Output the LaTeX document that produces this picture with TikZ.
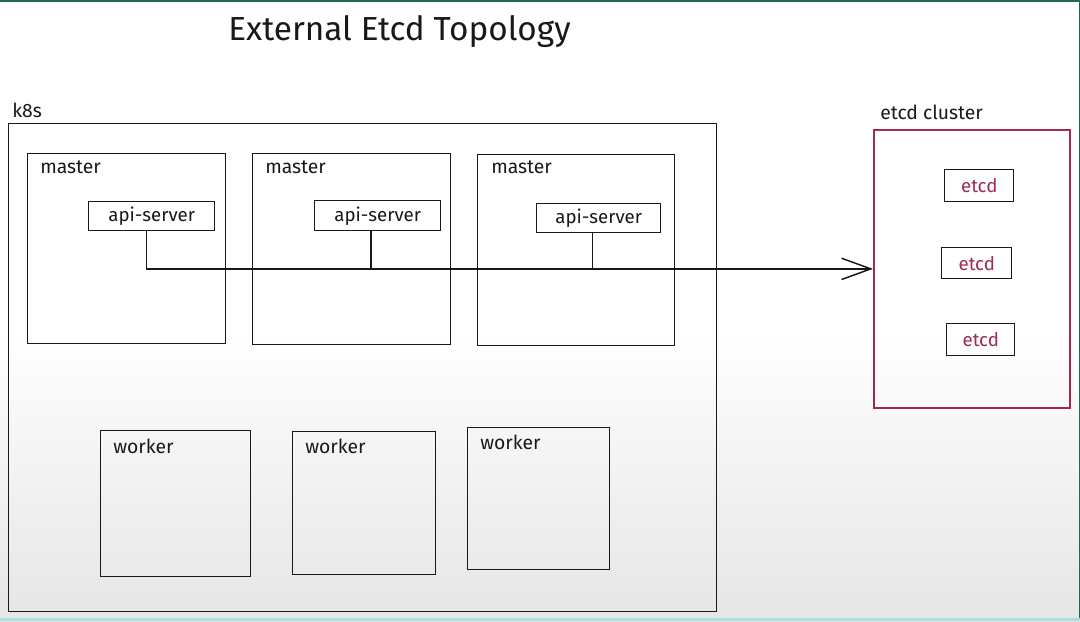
\documentclass[tikz,border=0pt]{standalone}
\usepackage{fontspec}
\setmainfont{Fira Sans}
\usepackage{tikz}
\usetikzlibrary{arrows.meta}
\usetikzlibrary{positioning}
\definecolor{plum}{RGB}{160,42,82}
\definecolor{ink}{RGB}{25,25,25}
\definecolor{frameteal}{RGB}{30,105,90}
\definecolor{framecyan}{RGB}{170,225,220}
\tikzset{>={Straight Barb[length=22pt, width=16pt]}}
\tikzset{sz/.style 2 args={minimum width={#1*0.75pt}, minimum height={#2*0.75pt}}}
\tikzstyle{box} = [draw=ink, line width=1.1pt, inner sep=0, anchor=north west, text=ink, font=\fontsize{14}{14}\selectfont]
\tikzstyle{tag} = [draw=none, inner sep=0, anchor=base west, text=ink, font=\fontsize{14.5}{14.5}\selectfont]
\begin{document}
\begin{tikzpicture}[x=0.75pt, y=-0.75pt]
\useasboundingbox (0,0) rectangle (1080,621);
\fill [white] (0,0) rectangle (1080,621);
\shade [top color=white, bottom color=gray!20] (0,330) rectangle (1080,621);
\draw [frameteal, line width=1.5pt] (0,1) -- (1080,1);
\draw [frameteal, line width=0.75pt] (1079,0) -- (1079,621);
\draw [framecyan, line width=2.2pt] (0,619.5) -- (1080,619.5);

\node [tag, font=\fontsize{25}{25}\selectfont] (title) at (228,40) {External Etcd Topology};

% k8s side
\node [box, sz={708}{488}] (k8s) at (8,123) {};
\node [tag] (k8slbl) at (12,117) {k8s};

\node [box, sz={198}{190}] (m1) at (27,153) {};
\node [box, sz={198}{191}] (m2) at (252,153) {};
\node [box, sz={197}{191}] (m3) at (477,154) {};
\node [tag] (m1lbl) at (40,173) {master};
\node [tag] (m2lbl) at (265,173) {master};
\node [tag] (m3lbl) at (491,173) {master};

\node [box, sz={126}{29}] (a1) at (88,201) {api-server};
\node [box, sz={126}{30}] (a2) at (314,200) {api-server};
\node [box, sz={124}{29}] (a3) at (536,203) {api-server};

\node [box, sz={150}{146}] (w1) at (100,430) {};
\node [box, sz={143}{143}] (w2) at (292,431) {};
\node [box, sz={142}{142}] (w3) at (467,427) {};
\node [tag] (w1lbl) at (113,453) {worker};
\node [tag] (w2lbl) at (305,453) {worker};
\node [tag] (w3lbl) at (480,449) {worker};

% etcd side
\node [box, draw=plum, line width=1.3pt, sz={196}{278}] (cluster) at (873,129) {};
\node [tag] (clusterlbl) at (880,119) {etcd cluster};
\node [box, text=plum, sz={69}{32}] (e1) at (944,169) {etcd};
\node [box, text=plum, sz={70}{31}] (e2) at (941,247) {etcd};
\node [box, text=plum, sz={68}{32}] (e3) at (946,323) {etcd};

\draw [->, draw=ink, line width=1.1pt] ([xshift=-3.75pt]a1.south) |- (cluster.west);
\draw [draw=ink, line width=1.1pt] ([xshift=-5pt]a2.south) -- ([xshift=-5pt]a2.south |- cluster.west);
\draw [draw=ink, line width=1.1pt] ([xshift=-4.5pt]a3.south) -- ([xshift=-4.5pt]a3.south |- cluster.west);
\end{tikzpicture}
\end{document}
